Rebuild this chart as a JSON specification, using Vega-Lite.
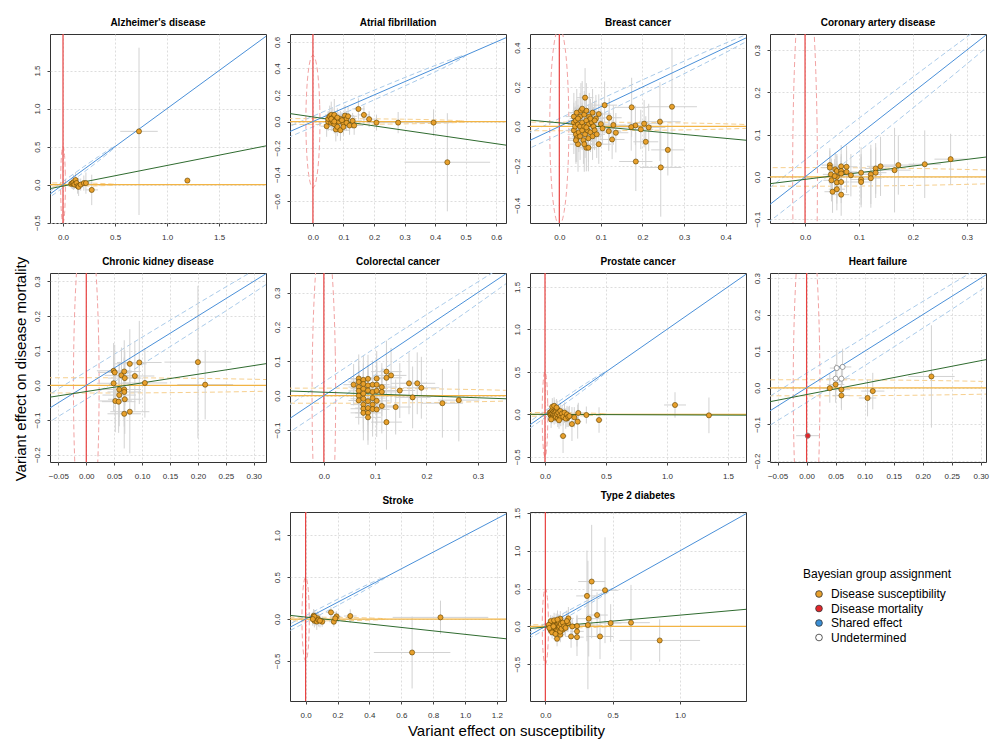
{
"$schema":"https://vega.github.io/schema/vega-lite/v6.json",
"padding":{"left":13,"top":17,"right":5,"bottom":5},
"title":{"text":"Variant effect on disease mortality","orient":"left","anchor":"middle","fontSize":15,"fontWeight":"normal","color":"#000","offset":4,"dx":9},
"columns":4,
"spacing":{"row":50,"column":24},
"bounds":"flush",
"resolve":{"scale":{"x":"independent","y":"independent","color":"shared"},"legend":{"color":"shared"}},
"datasets":{
"eR":[{"i":0,"x":0.023,"y":0},{"i":1,"x":0.0222,"y":0.1294},{"i":2,"x":0.0199,"y":0.25},{"i":3,"x":0.0163,"y":0.3536},{"i":4,"x":0.0115,"y":0.433},{"i":5,"x":0.006,"y":0.483},{"i":6,"x":0,"y":0.5},{"i":7,"x":-0.006,"y":0.483},{"i":8,"x":-0.0115,"y":0.433},{"i":9,"x":-0.0163,"y":0.3536},{"i":10,"x":-0.0199,"y":0.25},{"i":11,"x":-0.0222,"y":0.1294},{"i":12,"x":-0.023,"y":0},{"i":13,"x":-0.0222,"y":-0.1294},{"i":14,"x":-0.0199,"y":-0.25},{"i":15,"x":-0.0163,"y":-0.3536},{"i":16,"x":-0.0115,"y":-0.433},{"i":17,"x":-0.006,"y":-0.483},{"i":18,"x":0,"y":-0.5},{"i":19,"x":0.006,"y":-0.483},{"i":20,"x":0.0115,"y":-0.433},{"i":21,"x":0.0163,"y":-0.3536},{"i":22,"x":0.0199,"y":-0.25},{"i":23,"x":0.0222,"y":-0.1294}],
"eO":[{"i":0,"x":0.5,"y":0},{"i":1,"x":0.483,"y":0.0057},{"i":2,"x":0.433,"y":0.011},{"i":3,"x":0.3536,"y":0.0156},{"i":4,"x":0.25,"y":0.019},{"i":5,"x":0.1294,"y":0.0213},{"i":6,"x":0,"y":0.022},{"i":7,"x":-0.1294,"y":0.0213},{"i":8,"x":-0.25,"y":0.019},{"i":9,"x":-0.3536,"y":0.0156},{"i":10,"x":-0.433,"y":0.011},{"i":11,"x":-0.483,"y":0.0057},{"i":12,"x":-0.5,"y":0},{"i":13,"x":-0.483,"y":-0.0057},{"i":14,"x":-0.433,"y":-0.011},{"i":15,"x":-0.3536,"y":-0.0156},{"i":16,"x":-0.25,"y":-0.019},{"i":17,"x":-0.1294,"y":-0.0213},{"i":18,"x":0,"y":-0.022},{"i":19,"x":0.1294,"y":-0.0213},{"i":20,"x":0.25,"y":-0.019},{"i":21,"x":0.3536,"y":-0.0156},{"i":22,"x":0.433,"y":-0.011},{"i":23,"x":0.483,"y":-0.0057}],
"eB":[{"i":0,"x":0.5,"y":0.5},{"i":1,"x":0.4778,"y":0.4882},{"i":2,"x":0.423,"y":0.443},{"i":3,"x":0.3395,"y":0.3677},{"i":4,"x":0.2327,"y":0.2673},{"i":5,"x":0.1101,"y":0.1487},{"i":6,"x":-0.02,"y":0.02},{"i":7,"x":-0.1487,"y":-0.1101},{"i":8,"x":-0.2673,"y":-0.2327},{"i":9,"x":-0.3677,"y":-0.3395},{"i":10,"x":-0.443,"y":-0.423},{"i":11,"x":-0.4882,"y":-0.4778},{"i":12,"x":-0.5,"y":-0.5},{"i":13,"x":-0.4778,"y":-0.4882},{"i":14,"x":-0.423,"y":-0.443},{"i":15,"x":-0.3395,"y":-0.3677},{"i":16,"x":-0.2327,"y":-0.2673},{"i":17,"x":-0.1101,"y":-0.1487},{"i":18,"x":0.02,"y":-0.02},{"i":19,"x":0.1487,"y":0.1101},{"i":20,"x":0.2673,"y":0.2327},{"i":21,"x":0.3677,"y":0.3395},{"i":22,"x":0.443,"y":0.423},{"i":23,"x":0.4882,"y":0.4778}],
"vl":[{"x":0,"y":-3},{"x":0,"y":3}],
"hl":[{"x":-3,"y":0},{"x":3,"y":0}],
"dg":[{"x":-3,"y":-3},{"x":3,"y":3}],
"reg":[{"p":"AD","x":-0.125,"y":-0.053},{"p":"AD","x":1.95,"y":0.509},{"p":"AF","x":-0.075,"y":0.06},{"p":"AF","x":0.632,"y":-0.178},{"p":"BC","x":-0.0705,"y":0.032},{"p":"BC","x":0.449,"y":-0.07},{"p":"CAD","x":-0.065,"y":-0.016},{"p":"CAD","x":0.3356,"y":0.047},{"p":"CKD","x":-0.065,"y":-0.034},{"p":"CKD","x":0.322,"y":0.0625},{"p":"CRC","x":-0.066,"y":0.0136},{"p":"CRC","x":0.355,"y":-0.009},{"p":"PC","x":-0.123,"y":0.0},{"p":"PC","x":1.648,"y":-0.01},{"p":"HF","x":-0.063,"y":-0.038},{"p":"HF","x":0.309,"y":0.077},{"p":"ST","x":-0.098,"y":0.044},{"p":"ST","x":1.257,"y":-0.236},{"p":"T2D","x":-0.114,"y":-0.027},{"p":"T2D","x":1.49,"y":0.226}],
"oth":[{"p":"HF","g":"Disease mortality","x":0.002,"y":-0.131,"ex":0.02,"ey":0.01},{"p":"HF","g":"Undetermined","x":0.052,"y":0.054,"ex":0.012,"ey":0.05},{"p":"HF","g":"Undetermined","x":0.062,"y":0.057,"ex":0.015,"ey":0.05},{"p":"HF","g":"Undetermined","x":0.05,"y":0.025,"ex":0.015,"ey":0.04},{"p":"HF","g":"Undetermined","x":0.06,"y":0.025,"ex":0.015,"ey":0.04}],
"pts":[
{"p":"AD","x":0.73,"y":0.7,"ex":0.18,"ey":1.1},{"p":"AD","x":1.195,"y":0.053,"ex":0.02,"ey":0.03},{"p":"AD","x":0.276,"y":-0.07,"ex":0.06,"ey":0.2},{"p":"AD","x":0.08,"y":0.01,"ex":0.03,"ey":0.06},{"p":"AD","x":0.09,"y":0.02,"ex":0.03,"ey":0.08},{"p":"AD","x":0.1,"y":0.03,"ex":0.04,"ey":0.1},{"p":"AD","x":0.11,"y":0.0,"ex":0.03,"ey":0.06},{"p":"AD","x":0.12,"y":0.06,"ex":0.04,"ey":0.1},{"p":"AD","x":0.13,"y":0.02,"ex":0.04,"ey":0.08},{"p":"AD","x":0.14,"y":-0.02,"ex":0.05,"ey":0.1},{"p":"AD","x":0.15,"y":-0.03,"ex":0.05,"ey":0.12},{"p":"AD","x":0.17,"y":0.0,"ex":0.04,"ey":0.08},{"p":"AD","x":0.2,"y":0.02,"ex":0.05,"ey":0.1},{"p":"AD","x":0.22,"y":0.02,"ex":0.06,"ey":0.14},
{"p":"AF","x":0.149,"y":0.095,"ex":0.02,"ey":0.08},{"p":"AF","x":0.167,"y":0.05,"ex":0.02,"ey":0.07},{"p":"AF","x":0.184,"y":0.018,"ex":0.02,"ey":0.06},{"p":"AF","x":0.208,"y":-0.008,"ex":0.03,"ey":0.06},{"p":"AF","x":0.279,"y":-0.008,"ex":0.05,"ey":0.08},{"p":"AF","x":0.395,"y":-0.008,"ex":0.06,"ey":0.1},{"p":"AF","x":0.44,"y":-0.307,"ex":0.14,"ey":0.37},{"p":"AF","x":0.045,"y":-0.035,"ex":0.02,"ey":0.08},{"p":"AF","x":0.05,"y":0.0,"ex":0.02,"ey":0.07},{"p":"AF","x":0.05,"y":0.02,"ex":0.02,"ey":0.06},{"p":"AF","x":0.055,"y":0.04,"ex":0.02,"ey":0.08},{"p":"AF","x":0.06,"y":-0.01,"ex":0.02,"ey":0.06},{"p":"AF","x":0.06,"y":0.05,"ex":0.02,"ey":0.1},{"p":"AF","x":0.065,"y":0.03,"ex":0.02,"ey":0.07},{"p":"AF","x":0.065,"y":0.0,"ex":0.02,"ey":0.06},{"p":"AF","x":0.07,"y":0.05,"ex":0.02,"ey":0.12},{"p":"AF","x":0.07,"y":-0.02,"ex":0.02,"ey":0.07},{"p":"AF","x":0.075,"y":-0.06,"ex":0.03,"ey":0.09},{"p":"AF","x":0.075,"y":0.01,"ex":0.02,"ey":0.06},{"p":"AF","x":0.08,"y":-0.04,"ex":0.02,"ey":0.07},{"p":"AF","x":0.085,"y":0.0,"ex":0.03,"ey":0.07},{"p":"AF","x":0.09,"y":-0.065,"ex":0.03,"ey":0.08},{"p":"AF","x":0.09,"y":0.02,"ex":0.02,"ey":0.06},{"p":"AF","x":0.1,"y":-0.02,"ex":0.03,"ey":0.07},{"p":"AF","x":0.105,"y":0.045,"ex":0.03,"ey":0.08},{"p":"AF","x":0.11,"y":0.02,"ex":0.03,"ey":0.06},{"p":"AF","x":0.11,"y":-0.01,"ex":0.03,"ey":0.06},{"p":"AF","x":0.115,"y":0.04,"ex":0.03,"ey":0.07},{"p":"AF","x":0.12,"y":-0.03,"ex":0.03,"ey":0.07},{"p":"AF","x":0.13,"y":0.005,"ex":0.03,"ey":0.06},{"p":"AF","x":0.135,"y":-0.03,"ex":0.03,"ey":0.07},{"p":"AF","x":0.095,"y":0.01,"ex":0.02,"ey":0.06},{"p":"AF","x":0.1,"y":-0.04,"ex":0.03,"ey":0.07},{"p":"AF","x":0.06,"y":0.02,"ex":0.02,"ey":0.06},{"p":"AF","x":0.07,"y":0.0,"ex":0.02,"ey":0.06},{"p":"AF","x":0.08,"y":0.03,"ex":0.02,"ey":0.07},
{"p":"BC","x":0.174,"y":0.097,"ex":0.04,"ey":0.15},{"p":"BC","x":0.271,"y":0.1,"ex":0.06,"ey":0.3},{"p":"BC","x":0.242,"y":0.024,"ex":0.05,"ey":0.2},{"p":"BC","x":0.184,"y":-0.178,"ex":0.04,"ey":0.15},{"p":"BC","x":0.244,"y":-0.208,"ex":0.05,"ey":0.25},{"p":"BC","x":0.261,"y":-0.119,"ex":0.04,"ey":0.13},{"p":"BC","x":0.208,"y":-0.078,"ex":0.03,"ey":0.13},{"p":"BC","x":0.204,"y":0.014,"ex":0.04,"ey":0.12},{"p":"BC","x":0.196,"y":-0.015,"ex":0.03,"ey":0.1},{"p":"BC","x":0.215,"y":-0.005,"ex":0.04,"ey":0.12},{"p":"BC","x":0.183,"y":0.005,"ex":0.04,"ey":0.1},{"p":"BC","x":0.173,"y":-0.003,"ex":0.04,"ey":0.12},{"p":"BC","x":0.109,"y":0.108,"ex":0.03,"ey":0.12},{"p":"BC","x":0.12,"y":0.044,"ex":0.03,"ey":0.1},{"p":"BC","x":0.13,"y":0.007,"ex":0.03,"ey":0.1},{"p":"BC","x":0.136,"y":-0.032,"ex":0.03,"ey":0.1},{"p":"BC","x":0.127,"y":-0.066,"ex":0.03,"ey":0.1},{"p":"BC","x":0.119,"y":-0.024,"ex":0.03,"ey":0.1},{"p":"BC","x":0.095,"y":0.063,"ex":0.03,"ey":0.1},{"p":"BC","x":0.095,"y":-0.09,"ex":0.03,"ey":0.1},{"p":"BC","x":0.1,"y":0.012,"ex":0.03,"ey":0.08},{"p":"BC","x":0.104,"y":-0.01,"ex":0.03,"ey":0.08},{"p":"BC","x":0.062,"y":0.146,"ex":0.02,"ey":0.15},{"p":"BC","x":0.065,"y":-0.108,"ex":0.02,"ey":0.12},{"p":"BC","x":0.07,"y":-0.108,"ex":0.02,"ey":0.12},
{"p":"BC","x":0.035,"y":0.05,"ex":0.02,"ey":0.12},{"p":"BC","x":0.035,"y":0.02,"ex":0.02,"ey":0.1},{"p":"BC","x":0.035,"y":-0.02,"ex":0.02,"ey":0.12},{"p":"BC","x":0.038,"y":0.0,"ex":0.02,"ey":0.1},{"p":"BC","x":0.04,"y":-0.04,"ex":0.02,"ey":0.14},{"p":"BC","x":0.04,"y":0.03,"ex":0.02,"ey":0.1},{"p":"BC","x":0.042,"y":-0.06,"ex":0.02,"ey":0.12},{"p":"BC","x":0.042,"y":0.07,"ex":0.02,"ey":0.12},{"p":"BC","x":0.045,"y":0.01,"ex":0.02,"ey":0.1},{"p":"BC","x":0.045,"y":-0.09,"ex":0.02,"ey":0.14},{"p":"BC","x":0.047,"y":-0.03,"ex":0.02,"ey":0.1},{"p":"BC","x":0.05,"y":0.05,"ex":0.02,"ey":0.12},{"p":"BC","x":0.05,"y":0.0,"ex":0.02,"ey":0.1},{"p":"BC","x":0.05,"y":-0.05,"ex":0.02,"ey":0.12},{"p":"BC","x":0.052,"y":0.08,"ex":0.02,"ey":0.14},{"p":"BC","x":0.055,"y":0.02,"ex":0.02,"ey":0.1},{"p":"BC","x":0.055,"y":-0.02,"ex":0.02,"ey":0.1},{"p":"BC","x":0.058,"y":-0.07,"ex":0.02,"ey":0.12},{"p":"BC","x":0.06,"y":0.06,"ex":0.02,"ey":0.12},{"p":"BC","x":0.06,"y":0.0,"ex":0.02,"ey":0.1},{"p":"BC","x":0.062,"y":-0.04,"ex":0.02,"ey":0.12},{"p":"BC","x":0.065,"y":0.03,"ex":0.02,"ey":0.1},{"p":"BC","x":0.065,"y":0.08,"ex":0.02,"ey":0.14},{"p":"BC","x":0.068,"y":-0.02,"ex":0.02,"ey":0.1},{"p":"BC","x":0.07,"y":0.01,"ex":0.02,"ey":0.1},{"p":"BC","x":0.07,"y":-0.06,"ex":0.02,"ey":0.12},{"p":"BC","x":0.072,"y":0.05,"ex":0.02,"ey":0.12},{"p":"BC","x":0.075,"y":-0.03,"ex":0.02,"ey":0.1},{"p":"BC","x":0.078,"y":0.02,"ex":0.02,"ey":0.1},{"p":"BC","x":0.08,"y":-0.05,"ex":0.02,"ey":0.12},{"p":"BC","x":0.08,"y":0.07,"ex":0.02,"ey":0.12},{"p":"BC","x":0.082,"y":0.0,"ex":0.02,"ey":0.1},{"p":"BC","x":0.085,"y":-0.02,"ex":0.02,"ey":0.1},{"p":"BC","x":0.088,"y":0.04,"ex":0.02,"ey":0.12},{"p":"BC","x":0.09,"y":-0.04,"ex":0.02,"ey":0.12},{"p":"BC","x":0.045,"y":0.04,"ex":0.02,"ey":0.1},{"p":"BC","x":0.055,"y":0.09,"ex":0.02,"ey":0.14},{"p":"BC","x":0.06,"y":-0.09,"ex":0.02,"ey":0.14},{"p":"BC","x":0.075,"y":0.04,"ex":0.02,"ey":0.1},{"p":"BC","x":0.085,"y":0.03,"ex":0.02,"ey":0.1},{"p":"BC","x":0.04,"y":-0.07,"ex":0.02,"ey":0.12},{"p":"BC","x":0.065,"y":-0.005,"ex":0.02,"ey":0.1},
{"p":"CAD","x":0.046,"y":0.028,"ex":0.015,"ey":0.04},{"p":"CAD","x":0.046,"y":0.022,"ex":0.015,"ey":0.04},{"p":"CAD","x":0.048,"y":0.006,"ex":0.015,"ey":0.04},{"p":"CAD","x":0.049,"y":-0.008,"ex":0.015,"ey":0.05},{"p":"CAD","x":0.051,"y":-0.035,"ex":0.015,"ey":0.05},{"p":"CAD","x":0.056,"y":0.018,"ex":0.015,"ey":0.04},{"p":"CAD","x":0.059,"y":0.014,"ex":0.015,"ey":0.04},{"p":"CAD","x":0.059,"y":0.0,"ex":0.015,"ey":0.05},{"p":"CAD","x":0.059,"y":-0.013,"ex":0.015,"ey":0.05},{"p":"CAD","x":0.059,"y":-0.029,"ex":0.015,"ey":0.05},{"p":"CAD","x":0.067,"y":0.025,"ex":0.015,"ey":0.05},{"p":"CAD","x":0.067,"y":0.014,"ex":0.015,"ey":0.04},{"p":"CAD","x":0.067,"y":0.008,"ex":0.015,"ey":0.04},{"p":"CAD","x":0.067,"y":-0.012,"ex":0.015,"ey":0.05},{"p":"CAD","x":0.067,"y":-0.042,"ex":0.015,"ey":0.05},{"p":"CAD","x":0.077,"y":0.024,"ex":0.02,"ey":0.05},{"p":"CAD","x":0.077,"y":0.012,"ex":0.02,"ey":0.05},{"p":"CAD","x":0.085,"y":0.004,"ex":0.02,"ey":0.05},{"p":"CAD","x":0.104,"y":0.01,"ex":0.02,"ey":0.06},{"p":"CAD","x":0.104,"y":-0.006,"ex":0.02,"ey":0.06},{"p":"CAD","x":0.104,"y":-0.012,"ex":0.02,"ey":0.06},{"p":"CAD","x":0.122,"y":0.006,"ex":0.02,"ey":0.07},{"p":"CAD","x":0.122,"y":-0.003,"ex":0.02,"ey":0.07},{"p":"CAD","x":0.131,"y":0.02,"ex":0.02,"ey":0.06},{"p":"CAD","x":0.131,"y":0.01,"ex":0.02,"ey":0.06},{"p":"CAD","x":0.14,"y":0.025,"ex":0.025,"ey":0.07},{"p":"CAD","x":0.166,"y":0.016,"ex":0.03,"ey":0.1},{"p":"CAD","x":0.173,"y":0.028,"ex":0.03,"ey":0.07},{"p":"CAD","x":0.222,"y":0.03,"ex":0.03,"ey":0.08},{"p":"CAD","x":0.27,"y":0.042,"ex":0.03,"ey":0.06},{"p":"CAD","x":0.055,"y":0.002,"ex":0.015,"ey":0.04},
{"p":"CKD","x":0.049,"y":0.042,"ex":0.03,"ey":0.08},{"p":"CKD","x":0.051,"y":0.037,"ex":0.03,"ey":0.08},{"p":"CKD","x":0.049,"y":0.006,"ex":0.03,"ey":0.08},{"p":"CKD","x":0.052,"y":-0.045,"ex":0.03,"ey":0.09},{"p":"CKD","x":0.059,"y":-0.012,"ex":0.03,"ey":0.08},{"p":"CKD","x":0.059,"y":-0.028,"ex":0.03,"ey":0.09},{"p":"CKD","x":0.058,"y":-0.047,"ex":0.03,"ey":0.09},{"p":"CKD","x":0.063,"y":0.029,"ex":0.03,"ey":0.08},{"p":"CKD","x":0.068,"y":0.04,"ex":0.03,"ey":0.09},{"p":"CKD","x":0.069,"y":0.021,"ex":0.03,"ey":0.08},{"p":"CKD","x":0.068,"y":-0.012,"ex":0.03,"ey":0.09},{"p":"CKD","x":0.068,"y":-0.019,"ex":0.03,"ey":0.1},{"p":"CKD","x":0.069,"y":-0.04,"ex":0.03,"ey":0.1},{"p":"CKD","x":0.068,"y":-0.082,"ex":0.03,"ey":0.1},{"p":"CKD","x":0.078,"y":0.062,"ex":0.03,"ey":0.1},{"p":"CKD","x":0.078,"y":-0.076,"ex":0.035,"ey":0.12},{"p":"CKD","x":0.087,"y":0.027,"ex":0.035,"ey":0.1},{"p":"CKD","x":0.095,"y":0.066,"ex":0.04,"ey":0.12},{"p":"CKD","x":0.105,"y":0.007,"ex":0.04,"ey":0.1},{"p":"CKD","x":0.2,"y":0.067,"ex":0.06,"ey":0.22},{"p":"CKD","x":0.213,"y":0.002,"ex":0.05,"ey":0.1},
{"p":"CRC","x":0.058,"y":0.032,"ex":0.02,"ey":0.06},{"p":"CRC","x":0.068,"y":0.05,"ex":0.02,"ey":0.07},{"p":"CRC","x":0.068,"y":0.04,"ex":0.02,"ey":0.06},{"p":"CRC","x":0.068,"y":0.025,"ex":0.02,"ey":0.06},{"p":"CRC","x":0.068,"y":0.014,"ex":0.02,"ey":0.06},{"p":"CRC","x":0.068,"y":0.0,"ex":0.02,"ey":0.06},{"p":"CRC","x":0.068,"y":-0.014,"ex":0.02,"ey":0.07},{"p":"CRC","x":0.077,"y":0.046,"ex":0.025,"ey":0.07},{"p":"CRC","x":0.077,"y":0.034,"ex":0.025,"ey":0.06},{"p":"CRC","x":0.077,"y":0.02,"ex":0.025,"ey":0.06},{"p":"CRC","x":0.077,"y":0.006,"ex":0.025,"ey":0.06},{"p":"CRC","x":0.077,"y":-0.009,"ex":0.025,"ey":0.07},{"p":"CRC","x":0.077,"y":-0.026,"ex":0.025,"ey":0.07},{"p":"CRC","x":0.077,"y":-0.038,"ex":0.025,"ey":0.07},{"p":"CRC","x":0.077,"y":-0.05,"ex":0.025,"ey":0.08},{"p":"CRC","x":0.086,"y":0.049,"ex":0.025,"ey":0.07},{"p":"CRC","x":0.086,"y":0.03,"ex":0.025,"ey":0.06},{"p":"CRC","x":0.086,"y":0.015,"ex":0.025,"ey":0.06},{"p":"CRC","x":0.086,"y":-0.016,"ex":0.025,"ey":0.07},{"p":"CRC","x":0.086,"y":-0.036,"ex":0.025,"ey":0.07},{"p":"CRC","x":0.086,"y":-0.05,"ex":0.025,"ey":0.08},{"p":"CRC","x":0.086,"y":-0.063,"ex":0.025,"ey":0.08},{"p":"CRC","x":0.095,"y":0.032,"ex":0.025,"ey":0.07},{"p":"CRC","x":0.095,"y":0.011,"ex":0.025,"ey":0.06},{"p":"CRC","x":0.095,"y":-0.007,"ex":0.025,"ey":0.07},{"p":"CRC","x":0.095,"y":-0.026,"ex":0.025,"ey":0.07},{"p":"CRC","x":0.095,"y":-0.039,"ex":0.025,"ey":0.08},{"p":"CRC","x":0.103,"y":0.05,"ex":0.025,"ey":0.08},{"p":"CRC","x":0.103,"y":0.032,"ex":0.025,"ey":0.07},{"p":"CRC","x":0.103,"y":0.014,"ex":0.025,"ey":0.07},{"p":"CRC","x":0.103,"y":-0.015,"ex":0.025,"ey":0.07},{"p":"CRC","x":0.103,"y":-0.04,"ex":0.025,"ey":0.08},{"p":"CRC","x":0.113,"y":0.025,"ex":0.03,"ey":0.07},{"p":"CRC","x":0.113,"y":0.011,"ex":0.03,"ey":0.07},{"p":"CRC","x":0.113,"y":-0.03,"ex":0.03,"ey":0.08},{"p":"CRC","x":0.122,"y":0.07,"ex":0.03,"ey":0.09},{"p":"CRC","x":0.122,"y":0.052,"ex":0.03,"ey":0.08},{"p":"CRC","x":0.131,"y":0.059,"ex":0.03,"ey":0.08},{"p":"CRC","x":0.122,"y":-0.077,"ex":0.03,"ey":0.08},{"p":"CRC","x":0.14,"y":-0.033,"ex":0.03,"ey":0.08},{"p":"CRC","x":0.148,"y":0.015,"ex":0.03,"ey":0.08},{"p":"CRC","x":0.166,"y":0.036,"ex":0.035,"ey":0.09},{"p":"CRC","x":0.173,"y":-0.005,"ex":0.035,"ey":0.09},{"p":"CRC","x":0.182,"y":0.036,"ex":0.035,"ey":0.09},{"p":"CRC","x":0.19,"y":0.023,"ex":0.035,"ey":0.09},{"p":"CRC","x":0.231,"y":-0.022,"ex":0.04,"ey":0.1},{"p":"CRC","x":0.263,"y":-0.013,"ex":0.04,"ey":0.12},
{"p":"PC","x":1.066,"y":0.11,"ex":0.09,"ey":0.15},{"p":"PC","x":1.344,"y":-0.012,"ex":0.03,"ey":0.21},{"p":"PC","x":0.443,"y":-0.067,"ex":0.03,"ey":0.15},{"p":"PC","x":0.339,"y":-0.008,"ex":0.04,"ey":0.1},{"p":"PC","x":0.273,"y":0.016,"ex":0.04,"ey":0.12},{"p":"PC","x":0.268,"y":-0.086,"ex":0.03,"ey":0.2},{"p":"PC","x":0.24,"y":-0.035,"ex":0.03,"ey":0.12},{"p":"PC","x":0.221,"y":-0.114,"ex":0.03,"ey":0.2},{"p":"PC","x":0.148,"y":-0.255,"ex":0.03,"ey":0.2},{"p":"PC","x":0.18,"y":-0.05,"ex":0.03,"ey":0.1},
{"p":"PC","x":0.04,"y":0.02,"ex":0.03,"ey":0.08},{"p":"PC","x":0.045,"y":-0.01,"ex":0.03,"ey":0.08},{"p":"PC","x":0.05,"y":0.03,"ex":0.03,"ey":0.08},{"p":"PC","x":0.05,"y":0.0,"ex":0.03,"ey":0.08},{"p":"PC","x":0.055,"y":-0.03,"ex":0.03,"ey":0.08},{"p":"PC","x":0.06,"y":0.05,"ex":0.03,"ey":0.08},{"p":"PC","x":0.06,"y":0.01,"ex":0.03,"ey":0.08},{"p":"PC","x":0.065,"y":-0.02,"ex":0.03,"ey":0.08},{"p":"PC","x":0.07,"y":0.03,"ex":0.03,"ey":0.08},{"p":"PC","x":0.07,"y":0.0,"ex":0.03,"ey":0.08},{"p":"PC","x":0.075,"y":-0.04,"ex":0.03,"ey":0.08},{"p":"PC","x":0.08,"y":0.07,"ex":0.03,"ey":0.1},{"p":"PC","x":0.08,"y":0.02,"ex":0.03,"ey":0.08},{"p":"PC","x":0.085,"y":-0.01,"ex":0.03,"ey":0.08},{"p":"PC","x":0.09,"y":0.04,"ex":0.03,"ey":0.08},{"p":"PC","x":0.09,"y":-0.03,"ex":0.03,"ey":0.08},{"p":"PC","x":0.1,"y":0.0,"ex":0.03,"ey":0.08},{"p":"PC","x":0.1,"y":0.06,"ex":0.03,"ey":0.1},{"p":"PC","x":0.105,"y":-0.05,"ex":0.03,"ey":0.1},{"p":"PC","x":0.11,"y":0.02,"ex":0.03,"ey":0.08},{"p":"PC","x":0.12,"y":-0.02,"ex":0.04,"ey":0.1},{"p":"PC","x":0.125,"y":0.04,"ex":0.04,"ey":0.1},{"p":"PC","x":0.13,"y":-0.04,"ex":0.04,"ey":0.1},{"p":"PC","x":0.14,"y":0.01,"ex":0.04,"ey":0.1},{"p":"PC","x":0.15,"y":-0.03,"ex":0.04,"ey":0.1},{"p":"PC","x":0.16,"y":0.02,"ex":0.04,"ey":0.12},{"p":"PC","x":0.17,"y":-0.05,"ex":0.04,"ey":0.12},{"p":"PC","x":0.18,"y":0.0,"ex":0.04,"ey":0.1},{"p":"PC","x":0.19,"y":-0.03,"ex":0.04,"ey":0.12},{"p":"PC","x":0.2,"y":-0.02,"ex":0.04,"ey":0.12},{"p":"PC","x":0.06,"y":0.09,"ex":0.03,"ey":0.1},{"p":"PC","x":0.075,"y":0.1,"ex":0.03,"ey":0.1},{"p":"PC","x":0.05,"y":-0.06,"ex":0.03,"ey":0.1},{"p":"PC","x":0.095,"y":0.08,"ex":0.03,"ey":0.1},{"p":"PC","x":0.115,"y":-0.07,"ex":0.03,"ey":0.1},
{"p":"HF","x":0.04,"y":-0.001,"ex":0.015,"ey":0.04},{"p":"HF","x":0.05,"y":0.009,"ex":0.015,"ey":0.05},{"p":"HF","x":0.06,"y":-0.005,"ex":0.015,"ey":0.05},{"p":"HF","x":0.06,"y":-0.021,"ex":0.015,"ey":0.04},{"p":"HF","x":0.105,"y":-0.028,"ex":0.015,"ey":0.05},{"p":"HF","x":0.114,"y":-0.009,"ex":0.02,"ey":0.05},{"p":"HF","x":0.215,"y":0.031,"ex":0.04,"ey":0.14},
{"p":"ST","x":0.846,"y":0.02,"ex":0.3,"ey":0.2},{"p":"ST","x":0.668,"y":-0.4,"ex":0.24,"ey":0.43},{"p":"ST","x":0.28,"y":0.036,"ex":0.04,"ey":0.08},{"p":"ST","x":0.159,"y":0.08,"ex":0.03,"ey":0.06},{"p":"ST","x":0.194,"y":0.032,"ex":0.03,"ey":0.06},{"p":"ST","x":0.177,"y":-0.032,"ex":0.03,"ey":0.06},{"p":"ST","x":0.186,"y":0.008,"ex":0.03,"ey":0.06},{"p":"ST","x":0.104,"y":-0.032,"ex":0.02,"ey":0.06},{"p":"ST","x":0.05,"y":0.04,"ex":0.02,"ey":0.08},{"p":"ST","x":0.05,"y":0.02,"ex":0.02,"ey":0.08},{"p":"ST","x":0.055,"y":-0.02,"ex":0.02,"ey":0.08},{"p":"ST","x":0.06,"y":0.01,"ex":0.02,"ey":0.08},{"p":"ST","x":0.065,"y":0.0,"ex":0.02,"ey":0.08},{"p":"ST","x":0.07,"y":-0.03,"ex":0.02,"ey":0.1},{"p":"ST","x":0.075,"y":0.01,"ex":0.02,"ey":0.08},{"p":"ST","x":0.08,"y":-0.01,"ex":0.02,"ey":0.08},{"p":"ST","x":0.09,"y":-0.02,"ex":0.02,"ey":0.08},{"p":"ST","x":0.055,"y":0.03,"ex":0.02,"ey":0.08},{"p":"ST","x":0.045,"y":0.0,"ex":0.02,"ey":0.08},
{"p":"T2D","x":0.344,"y":0.593,"ex":0.1,"ey":0.75},{"p":"T2D","x":0.309,"y":0.403,"ex":0.08,"ey":0.6},{"p":"T2D","x":0.443,"y":0.478,"ex":0.1,"ey":0.7},{"p":"T2D","x":0.384,"y":0.15,"ex":0.08,"ey":0.3},{"p":"T2D","x":0.322,"y":0.102,"ex":0.08,"ey":0.5},{"p":"T2D","x":0.316,"y":0.018,"ex":0.08,"ey":0.85},{"p":"T2D","x":0.406,"y":-0.133,"ex":0.1,"ey":0.3},{"p":"T2D","x":0.485,"y":0.044,"ex":0.08,"ey":0.25},{"p":"T2D","x":0.636,"y":0.049,"ex":0.14,"ey":0.5},{"p":"T2D","x":0.849,"y":-0.186,"ex":0.3,"ey":0.28},{"p":"T2D","x":0.235,"y":0.004,"ex":0.05,"ey":0.15},{"p":"T2D","x":0.235,"y":-0.066,"ex":0.05,"ey":0.2},{"p":"T2D","x":0.235,"y":-0.142,"ex":0.05,"ey":0.25},{"p":"T2D","x":0.191,"y":-0.133,"ex":0.04,"ey":0.15},{"p":"T2D","x":0.171,"y":0.106,"ex":0.04,"ey":0.15},{"p":"T2D","x":0.168,"y":0.044,"ex":0.04,"ey":0.12},{"p":"T2D","x":0.111,"y":0.102,"ex":0.03,"ey":0.1},{"p":"T2D","x":0.129,"y":-0.044,"ex":0.03,"ey":0.1},{"p":"T2D","x":0.087,"y":-0.164,"ex":0.03,"ey":0.1},{"p":"T2D","x":0.111,"y":-0.11,"ex":0.03,"ey":0.1},{"p":"T2D","x":0.2,"y":0.0,"ex":0.04,"ey":0.1},
{"p":"T2D","x":0.03,"y":0.0,"ex":0.02,"ey":0.06},{"p":"T2D","x":0.035,"y":0.03,"ex":0.02,"ey":0.06},{"p":"T2D","x":0.035,"y":-0.03,"ex":0.02,"ey":0.06},{"p":"T2D","x":0.04,"y":0.01,"ex":0.02,"ey":0.06},{"p":"T2D","x":0.04,"y":-0.05,"ex":0.02,"ey":0.07},{"p":"T2D","x":0.045,"y":0.05,"ex":0.02,"ey":0.07},{"p":"T2D","x":0.045,"y":-0.01,"ex":0.02,"ey":0.06},{"p":"T2D","x":0.05,"y":0.02,"ex":0.02,"ey":0.06},{"p":"T2D","x":0.05,"y":-0.03,"ex":0.02,"ey":0.07},{"p":"T2D","x":0.055,"y":0.0,"ex":0.02,"ey":0.06},{"p":"T2D","x":0.055,"y":0.06,"ex":0.02,"ey":0.08},{"p":"T2D","x":0.06,"y":-0.05,"ex":0.02,"ey":0.08},{"p":"T2D","x":0.06,"y":0.03,"ex":0.02,"ey":0.07},{"p":"T2D","x":0.065,"y":-0.01,"ex":0.02,"ey":0.07},{"p":"T2D","x":0.07,"y":0.04,"ex":0.02,"ey":0.08},{"p":"T2D","x":0.07,"y":-0.07,"ex":0.02,"ey":0.08},{"p":"T2D","x":0.075,"y":0.01,"ex":0.025,"ey":0.08},{"p":"T2D","x":0.08,"y":-0.03,"ex":0.025,"ey":0.08},{"p":"T2D","x":0.08,"y":0.07,"ex":0.025,"ey":0.1},{"p":"T2D","x":0.085,"y":0.02,"ex":0.025,"ey":0.08},{"p":"T2D","x":0.09,"y":-0.05,"ex":0.025,"ey":0.1},{"p":"T2D","x":0.095,"y":0.04,"ex":0.025,"ey":0.1},{"p":"T2D","x":0.1,"y":-0.02,"ex":0.03,"ey":0.1},{"p":"T2D","x":0.1,"y":0.06,"ex":0.03,"ey":0.1},{"p":"T2D","x":0.105,"y":0.0,"ex":0.03,"ey":0.1},{"p":"T2D","x":0.11,"y":-0.07,"ex":0.03,"ey":0.12},{"p":"T2D","x":0.115,"y":0.03,"ex":0.03,"ey":0.1},{"p":"T2D","x":0.12,"y":-0.03,"ex":0.03,"ey":0.1},{"p":"T2D","x":0.13,"y":0.05,"ex":0.03,"ey":0.12},{"p":"T2D","x":0.14,"y":0.0,"ex":0.03,"ey":0.12},{"p":"T2D","x":0.15,"y":-0.02,"ex":0.03,"ey":0.12},{"p":"T2D","x":0.16,"y":0.07,"ex":0.04,"ey":0.14},{"p":"T2D","x":0.04,"y":0.07,"ex":0.02,"ey":0.08},{"p":"T2D","x":0.05,"y":-0.08,"ex":0.02,"ey":0.08},{"p":"T2D","x":0.065,"y":0.08,"ex":0.02,"ey":0.1},{"p":"T2D","x":0.075,"y":-0.1,"ex":0.02,"ey":0.1},{"p":"T2D","x":0.09,"y":0.09,"ex":0.03,"ey":0.12},{"p":"T2D","x":0.025,"y":0.02,"ex":0.02,"ey":0.06},{"p":"T2D","x":0.03,"y":-0.02,"ex":0.02,"ey":0.06},{"p":"T2D","x":0.06,"y":0.0,"ex":0.02,"ey":0.06}
]
},
"concat":[
{"title":"Alzheimer's disease","width":216,"height":189,
"encoding":{"x":{"field":"x","type":"quantitative","title":null,"scale":{"domain":[-0.125,1.95],"nice":false,"zero":false},"axis":{"values":[0,0.5,1,1.5],"format":".1f"}},"y":{"field":"y","type":"quantitative","title":null,"scale":{"domain":[-0.505,1.98],"nice":false,"zero":false},"axis":{"values":[-0.5,0,0.5,1,1.5],"format":".1f"}}},
"layer":[
{"data":{"name":"eR"},"mark":{"type":"line","clip":true,"interpolate":"cardinal-closed","strokeDash":[5,3],"color":"#F2A3A3","strokeWidth":1},"encoding":{"order":{"field":"i"}}},
{"data":{"name":"eO"},"mark":{"type":"line","clip":true,"interpolate":"cardinal-closed","strokeDash":[5,3],"color":"#F7D08F","strokeWidth":1},"encoding":{"order":{"field":"i"}}},
{"data":{"name":"eB"},"mark":{"type":"line","clip":true,"interpolate":"cardinal-closed","strokeDash":[5,3],"color":"#AACBEA","strokeWidth":1},"encoding":{"order":{"field":"i"}}},
{"data":{"name":"pts"},"transform":[{"filter":"datum.p=='AD'"}],"mark":{"type":"errorbar","color":"#d2d2d2","clip":true},"encoding":{"xError":{"field":"ex"}}},
{"data":{"name":"pts"},"transform":[{"filter":"datum.p=='AD'"}],"mark":{"type":"errorbar","color":"#d2d2d2","clip":true},"encoding":{"yError":{"field":"ey"}}},
{"data":{"name":"vl"},"mark":{"type":"line","clip":true,"color":"#E8403F","strokeWidth":1.2},"encoding":{}},
{"data":{"name":"hl"},"mark":{"type":"line","clip":true,"color":"#F2B444","strokeWidth":1.2},"encoding":{}},
{"data":{"name":"dg"},"mark":{"type":"line","clip":true,"color":"#4A90D9","strokeWidth":1},"encoding":{}},
{"data":{"name":"reg"},"transform":[{"filter":"datum.p=='AD'"}],"mark":{"type":"line","clip":true,"color":"#2F6B2F","strokeWidth":1},"encoding":{}},
{"data":{"name":"pts"},"transform":[{"filter":"datum.p=='AD'"}],"mark":{"type":"point","filled":true,"size":26,"opacity":1,"stroke":"#5e4100","strokeWidth":0.6},"encoding":{"color":{"datum":"Disease susceptibility","type":"nominal","scale":{"domain":["Disease susceptibility","Disease mortality","Shared effect","Undetermined"],"range":["#E8A02C","#E3262A","#3A8FD6","#FFFFFF"]},"legend":{"title":"Bayesian group assignment","orient":"none","legendX":753,"legendY":535}}}}
]},
{"title":"Atrial fibrillation","width":216,"height":189,
"encoding":{"x":{"field":"x","type":"quantitative","title":null,"scale":{"domain":[-0.075,0.632],"nice":false,"zero":false},"axis":{"values":[0,0.1,0.2,0.3,0.4,0.5,0.6],"format":".1f"}},"y":{"field":"y","type":"quantitative","title":null,"scale":{"domain":[-0.765,0.66],"nice":false,"zero":false},"axis":{"values":[-0.6,-0.4,-0.2,0,0.2,0.4,0.6],"format":".1f"}}},
"layer":[
{"data":{"name":"eR"},"mark":{"type":"line","clip":true,"interpolate":"cardinal-closed","strokeDash":[5,3],"color":"#F2A3A3","strokeWidth":1},"encoding":{"order":{"field":"i"}}},
{"data":{"name":"eO"},"mark":{"type":"line","clip":true,"interpolate":"cardinal-closed","strokeDash":[5,3],"color":"#F7D08F","strokeWidth":1},"encoding":{"order":{"field":"i"}}},
{"data":{"name":"eB"},"mark":{"type":"line","clip":true,"interpolate":"cardinal-closed","strokeDash":[5,3],"color":"#AACBEA","strokeWidth":1},"encoding":{"order":{"field":"i"}}},
{"data":{"name":"pts"},"transform":[{"filter":"datum.p=='AF'"}],"mark":{"type":"errorbar","color":"#d2d2d2","clip":true},"encoding":{"xError":{"field":"ex"}}},
{"data":{"name":"pts"},"transform":[{"filter":"datum.p=='AF'"}],"mark":{"type":"errorbar","color":"#d2d2d2","clip":true},"encoding":{"yError":{"field":"ey"}}},
{"data":{"name":"vl"},"mark":{"type":"line","clip":true,"color":"#E8403F","strokeWidth":1.2},"encoding":{}},
{"data":{"name":"hl"},"mark":{"type":"line","clip":true,"color":"#F2B444","strokeWidth":1.2},"encoding":{}},
{"data":{"name":"dg"},"mark":{"type":"line","clip":true,"color":"#4A90D9","strokeWidth":1},"encoding":{}},
{"data":{"name":"reg"},"transform":[{"filter":"datum.p=='AF'"}],"mark":{"type":"line","clip":true,"color":"#2F6B2F","strokeWidth":1},"encoding":{}},
{"data":{"name":"pts"},"transform":[{"filter":"datum.p=='AF'"}],"mark":{"type":"point","filled":true,"size":26,"opacity":1,"stroke":"#5e4100","strokeWidth":0.6},"encoding":{"color":{"datum":"Disease susceptibility","type":"nominal","scale":{"domain":["Disease susceptibility","Disease mortality","Shared effect","Undetermined"],"range":["#E8A02C","#E3262A","#3A8FD6","#FFFFFF"]},"legend":{"title":"Bayesian group assignment","orient":"none","legendX":753,"legendY":535}}}}
]},
{"title":"Breast cancer","width":216,"height":189,
"encoding":{"x":{"field":"x","type":"quantitative","title":null,"scale":{"domain":[-0.0705,0.449],"nice":false,"zero":false},"axis":{"values":[0,0.1,0.2,0.3,0.4],"format":".1f"}},"y":{"field":"y","type":"quantitative","title":null,"scale":{"domain":[-0.49,0.469],"nice":false,"zero":false},"axis":{"values":[-0.4,-0.2,0,0.2,0.4],"format":".1f"}}},
"layer":[
{"data":{"name":"eR"},"mark":{"type":"line","clip":true,"interpolate":"cardinal-closed","strokeDash":[5,3],"color":"#F2A3A3","strokeWidth":1},"encoding":{"order":{"field":"i"}}},
{"data":{"name":"eO"},"mark":{"type":"line","clip":true,"interpolate":"cardinal-closed","strokeDash":[5,3],"color":"#F7D08F","strokeWidth":1},"encoding":{"order":{"field":"i"}}},
{"data":{"name":"eB"},"mark":{"type":"line","clip":true,"interpolate":"cardinal-closed","strokeDash":[5,3],"color":"#AACBEA","strokeWidth":1},"encoding":{"order":{"field":"i"}}},
{"data":{"name":"pts"},"transform":[{"filter":"datum.p=='BC'"}],"mark":{"type":"errorbar","color":"#d2d2d2","clip":true},"encoding":{"xError":{"field":"ex"}}},
{"data":{"name":"pts"},"transform":[{"filter":"datum.p=='BC'"}],"mark":{"type":"errorbar","color":"#d2d2d2","clip":true},"encoding":{"yError":{"field":"ey"}}},
{"data":{"name":"vl"},"mark":{"type":"line","clip":true,"color":"#E8403F","strokeWidth":1.2},"encoding":{}},
{"data":{"name":"hl"},"mark":{"type":"line","clip":true,"color":"#F2B444","strokeWidth":1.2},"encoding":{}},
{"data":{"name":"dg"},"mark":{"type":"line","clip":true,"color":"#4A90D9","strokeWidth":1},"encoding":{}},
{"data":{"name":"reg"},"transform":[{"filter":"datum.p=='BC'"}],"mark":{"type":"line","clip":true,"color":"#2F6B2F","strokeWidth":1},"encoding":{}},
{"data":{"name":"pts"},"transform":[{"filter":"datum.p=='BC'"}],"mark":{"type":"point","filled":true,"size":26,"opacity":1,"stroke":"#5e4100","strokeWidth":0.6},"encoding":{"color":{"datum":"Disease susceptibility","type":"nominal","scale":{"domain":["Disease susceptibility","Disease mortality","Shared effect","Undetermined"],"range":["#E8A02C","#E3262A","#3A8FD6","#FFFFFF"]},"legend":{"title":"Bayesian group assignment","orient":"none","legendX":753,"legendY":535}}}}
]},
{"title":"Coronary artery disease","width":216,"height":189,
"encoding":{"x":{"field":"x","type":"quantitative","title":null,"scale":{"domain":[-0.065,0.3356],"nice":false,"zero":false},"axis":{"values":[0,0.1,0.2,0.3],"format":".1f"}},"y":{"field":"y","type":"quantitative","title":null,"scale":{"domain":[-0.109,0.338],"nice":false,"zero":false},"axis":{"values":[-0.1,0,0.1,0.2,0.3],"format":".1f"}}},
"layer":[
{"data":{"name":"eR"},"mark":{"type":"line","clip":true,"interpolate":"cardinal-closed","strokeDash":[5,3],"color":"#F2A3A3","strokeWidth":1},"encoding":{"order":{"field":"i"}}},
{"data":{"name":"eO"},"mark":{"type":"line","clip":true,"interpolate":"cardinal-closed","strokeDash":[5,3],"color":"#F7D08F","strokeWidth":1},"encoding":{"order":{"field":"i"}}},
{"data":{"name":"eB"},"mark":{"type":"line","clip":true,"interpolate":"cardinal-closed","strokeDash":[5,3],"color":"#AACBEA","strokeWidth":1},"encoding":{"order":{"field":"i"}}},
{"data":{"name":"pts"},"transform":[{"filter":"datum.p=='CAD'"}],"mark":{"type":"errorbar","color":"#d2d2d2","clip":true},"encoding":{"xError":{"field":"ex"}}},
{"data":{"name":"pts"},"transform":[{"filter":"datum.p=='CAD'"}],"mark":{"type":"errorbar","color":"#d2d2d2","clip":true},"encoding":{"yError":{"field":"ey"}}},
{"data":{"name":"vl"},"mark":{"type":"line","clip":true,"color":"#E8403F","strokeWidth":1.2},"encoding":{}},
{"data":{"name":"hl"},"mark":{"type":"line","clip":true,"color":"#F2B444","strokeWidth":1.2},"encoding":{}},
{"data":{"name":"dg"},"mark":{"type":"line","clip":true,"color":"#4A90D9","strokeWidth":1},"encoding":{}},
{"data":{"name":"reg"},"transform":[{"filter":"datum.p=='CAD'"}],"mark":{"type":"line","clip":true,"color":"#2F6B2F","strokeWidth":1},"encoding":{}},
{"data":{"name":"pts"},"transform":[{"filter":"datum.p=='CAD'"}],"mark":{"type":"point","filled":true,"size":26,"opacity":1,"stroke":"#5e4100","strokeWidth":0.6},"encoding":{"color":{"datum":"Disease susceptibility","type":"nominal","scale":{"domain":["Disease susceptibility","Disease mortality","Shared effect","Undetermined"],"range":["#E8A02C","#E3262A","#3A8FD6","#FFFFFF"]},"legend":{"title":"Bayesian group assignment","orient":"none","legendX":753,"legendY":535}}}}
]},
{"title":"Chronic kidney disease","width":216,"height":189,
"encoding":{"x":{"field":"x","type":"quantitative","title":null,"scale":{"domain":[-0.065,0.322],"nice":false,"zero":false},"axis":{"values":[-0.05,0,0.05,0.1,0.15,0.2,0.25,0.3],"format":".2f"}},"y":{"field":"y","type":"quantitative","title":null,"scale":{"domain":[-0.221,0.324],"nice":false,"zero":false},"axis":{"values":[-0.2,-0.1,0,0.1,0.2,0.3],"format":".1f"}}},
"layer":[
{"data":{"name":"eR"},"mark":{"type":"line","clip":true,"interpolate":"cardinal-closed","strokeDash":[5,3],"color":"#F2A3A3","strokeWidth":1},"encoding":{"order":{"field":"i"}}},
{"data":{"name":"eO"},"mark":{"type":"line","clip":true,"interpolate":"cardinal-closed","strokeDash":[5,3],"color":"#F7D08F","strokeWidth":1},"encoding":{"order":{"field":"i"}}},
{"data":{"name":"eB"},"mark":{"type":"line","clip":true,"interpolate":"cardinal-closed","strokeDash":[5,3],"color":"#AACBEA","strokeWidth":1},"encoding":{"order":{"field":"i"}}},
{"data":{"name":"pts"},"transform":[{"filter":"datum.p=='CKD'"}],"mark":{"type":"errorbar","color":"#d2d2d2","clip":true},"encoding":{"xError":{"field":"ex"}}},
{"data":{"name":"pts"},"transform":[{"filter":"datum.p=='CKD'"}],"mark":{"type":"errorbar","color":"#d2d2d2","clip":true},"encoding":{"yError":{"field":"ey"}}},
{"data":{"name":"vl"},"mark":{"type":"line","clip":true,"color":"#E8403F","strokeWidth":1.2},"encoding":{}},
{"data":{"name":"hl"},"mark":{"type":"line","clip":true,"color":"#F2B444","strokeWidth":1.2},"encoding":{}},
{"data":{"name":"dg"},"mark":{"type":"line","clip":true,"color":"#4A90D9","strokeWidth":1},"encoding":{}},
{"data":{"name":"reg"},"transform":[{"filter":"datum.p=='CKD'"}],"mark":{"type":"line","clip":true,"color":"#2F6B2F","strokeWidth":1},"encoding":{}},
{"data":{"name":"pts"},"transform":[{"filter":"datum.p=='CKD'"}],"mark":{"type":"point","filled":true,"size":26,"opacity":1,"stroke":"#5e4100","strokeWidth":0.6},"encoding":{"color":{"datum":"Disease susceptibility","type":"nominal","scale":{"domain":["Disease susceptibility","Disease mortality","Shared effect","Undetermined"],"range":["#E8A02C","#E3262A","#3A8FD6","#FFFFFF"]},"legend":{"title":"Bayesian group assignment","orient":"none","legendX":753,"legendY":535}}}}
]},
{"title":"Colorectal cancer","width":216,"height":189,
"encoding":{"x":{"field":"x","type":"quantitative","title":null,"scale":{"domain":[-0.066,0.355],"nice":false,"zero":false},"axis":{"values":[0,0.1,0.2,0.3],"format":".1f"}},"y":{"field":"y","type":"quantitative","title":null,"scale":{"domain":[-0.193,0.357],"nice":false,"zero":false},"axis":{"values":[-0.1,0,0.1,0.2,0.3],"format":".1f"}}},
"layer":[
{"data":{"name":"eR"},"mark":{"type":"line","clip":true,"interpolate":"cardinal-closed","strokeDash":[5,3],"color":"#F2A3A3","strokeWidth":1},"encoding":{"order":{"field":"i"}}},
{"data":{"name":"eO"},"mark":{"type":"line","clip":true,"interpolate":"cardinal-closed","strokeDash":[5,3],"color":"#F7D08F","strokeWidth":1},"encoding":{"order":{"field":"i"}}},
{"data":{"name":"eB"},"mark":{"type":"line","clip":true,"interpolate":"cardinal-closed","strokeDash":[5,3],"color":"#AACBEA","strokeWidth":1},"encoding":{"order":{"field":"i"}}},
{"data":{"name":"pts"},"transform":[{"filter":"datum.p=='CRC'"}],"mark":{"type":"errorbar","color":"#d2d2d2","clip":true},"encoding":{"xError":{"field":"ex"}}},
{"data":{"name":"pts"},"transform":[{"filter":"datum.p=='CRC'"}],"mark":{"type":"errorbar","color":"#d2d2d2","clip":true},"encoding":{"yError":{"field":"ey"}}},
{"data":{"name":"vl"},"mark":{"type":"line","clip":true,"color":"#E8403F","strokeWidth":1.2},"encoding":{}},
{"data":{"name":"hl"},"mark":{"type":"line","clip":true,"color":"#F2B444","strokeWidth":1.2},"encoding":{}},
{"data":{"name":"dg"},"mark":{"type":"line","clip":true,"color":"#4A90D9","strokeWidth":1},"encoding":{}},
{"data":{"name":"reg"},"transform":[{"filter":"datum.p=='CRC'"}],"mark":{"type":"line","clip":true,"color":"#2F6B2F","strokeWidth":1},"encoding":{}},
{"data":{"name":"pts"},"transform":[{"filter":"datum.p=='CRC'"}],"mark":{"type":"point","filled":true,"size":26,"opacity":1,"stroke":"#5e4100","strokeWidth":0.6},"encoding":{"color":{"datum":"Disease susceptibility","type":"nominal","scale":{"domain":["Disease susceptibility","Disease mortality","Shared effect","Undetermined"],"range":["#E8A02C","#E3262A","#3A8FD6","#FFFFFF"]},"legend":{"title":"Bayesian group assignment","orient":"none","legendX":753,"legendY":535}}}}
]},
{"title":"Prostate cancer","width":216,"height":189,
"encoding":{"x":{"field":"x","type":"quantitative","title":null,"scale":{"domain":[-0.123,1.648],"nice":false,"zero":false},"axis":{"values":[0,0.5,1,1.5],"format":".1f"}},"y":{"field":"y","type":"quantitative","title":null,"scale":{"domain":[-0.561,1.663],"nice":false,"zero":false},"axis":{"values":[-0.5,0,0.5,1,1.5],"format":".1f"}}},
"layer":[
{"data":{"name":"eR"},"mark":{"type":"line","clip":true,"interpolate":"cardinal-closed","strokeDash":[5,3],"color":"#F2A3A3","strokeWidth":1},"encoding":{"order":{"field":"i"}}},
{"data":{"name":"eO"},"mark":{"type":"line","clip":true,"interpolate":"cardinal-closed","strokeDash":[5,3],"color":"#F7D08F","strokeWidth":1},"encoding":{"order":{"field":"i"}}},
{"data":{"name":"eB"},"mark":{"type":"line","clip":true,"interpolate":"cardinal-closed","strokeDash":[5,3],"color":"#AACBEA","strokeWidth":1},"encoding":{"order":{"field":"i"}}},
{"data":{"name":"pts"},"transform":[{"filter":"datum.p=='PC'"}],"mark":{"type":"errorbar","color":"#d2d2d2","clip":true},"encoding":{"xError":{"field":"ex"}}},
{"data":{"name":"pts"},"transform":[{"filter":"datum.p=='PC'"}],"mark":{"type":"errorbar","color":"#d2d2d2","clip":true},"encoding":{"yError":{"field":"ey"}}},
{"data":{"name":"vl"},"mark":{"type":"line","clip":true,"color":"#E8403F","strokeWidth":1.2},"encoding":{}},
{"data":{"name":"hl"},"mark":{"type":"line","clip":true,"color":"#F2B444","strokeWidth":1.2},"encoding":{}},
{"data":{"name":"dg"},"mark":{"type":"line","clip":true,"color":"#4A90D9","strokeWidth":1},"encoding":{}},
{"data":{"name":"reg"},"transform":[{"filter":"datum.p=='PC'"}],"mark":{"type":"line","clip":true,"color":"#2F6B2F","strokeWidth":1},"encoding":{}},
{"data":{"name":"pts"},"transform":[{"filter":"datum.p=='PC'"}],"mark":{"type":"point","filled":true,"size":26,"opacity":1,"stroke":"#5e4100","strokeWidth":0.6},"encoding":{"color":{"datum":"Disease susceptibility","type":"nominal","scale":{"domain":["Disease susceptibility","Disease mortality","Shared effect","Undetermined"],"range":["#E8A02C","#E3262A","#3A8FD6","#FFFFFF"]},"legend":{"title":"Bayesian group assignment","orient":"none","legendX":753,"legendY":535}}}}
]},
{"title":"Heart failure","width":216,"height":189,
"encoding":{"x":{"field":"x","type":"quantitative","title":null,"scale":{"domain":[-0.063,0.309],"nice":false,"zero":false},"axis":{"values":[-0.05,0,0.05,0.1,0.15,0.2,0.25,0.3],"format":".2f"}},"y":{"field":"y","type":"quantitative","title":null,"scale":{"domain":[-0.203,0.314],"nice":false,"zero":false},"axis":{"values":[-0.2,-0.1,0,0.1,0.2,0.3],"format":".1f"}}},
"layer":[
{"data":{"name":"eR"},"mark":{"type":"line","clip":true,"interpolate":"cardinal-closed","strokeDash":[5,3],"color":"#F2A3A3","strokeWidth":1},"encoding":{"order":{"field":"i"}}},
{"data":{"name":"eO"},"mark":{"type":"line","clip":true,"interpolate":"cardinal-closed","strokeDash":[5,3],"color":"#F7D08F","strokeWidth":1},"encoding":{"order":{"field":"i"}}},
{"data":{"name":"eB"},"mark":{"type":"line","clip":true,"interpolate":"cardinal-closed","strokeDash":[5,3],"color":"#AACBEA","strokeWidth":1},"encoding":{"order":{"field":"i"}}},
{"data":{"name":"pts"},"transform":[{"filter":"datum.p=='HF'"}],"mark":{"type":"errorbar","color":"#d2d2d2","clip":true},"encoding":{"xError":{"field":"ex"}}},
{"data":{"name":"pts"},"transform":[{"filter":"datum.p=='HF'"}],"mark":{"type":"errorbar","color":"#d2d2d2","clip":true},"encoding":{"yError":{"field":"ey"}}},
{"data":{"name":"oth"},"mark":{"type":"errorbar","color":"#d2d2d2","clip":true},"encoding":{"xError":{"field":"ex"}}},
{"data":{"name":"oth"},"mark":{"type":"errorbar","color":"#d2d2d2","clip":true},"encoding":{"yError":{"field":"ey"}}},
{"data":{"name":"vl"},"mark":{"type":"line","clip":true,"color":"#E8403F","strokeWidth":1.2},"encoding":{}},
{"data":{"name":"hl"},"mark":{"type":"line","clip":true,"color":"#F2B444","strokeWidth":1.2},"encoding":{}},
{"data":{"name":"dg"},"mark":{"type":"line","clip":true,"color":"#4A90D9","strokeWidth":1},"encoding":{}},
{"data":{"name":"reg"},"transform":[{"filter":"datum.p=='HF'"}],"mark":{"type":"line","clip":true,"color":"#2F6B2F","strokeWidth":1},"encoding":{}},
{"data":{"name":"pts"},"transform":[{"filter":"datum.p=='HF'"}],"mark":{"type":"point","filled":true,"size":26,"opacity":1,"stroke":"#5e4100","strokeWidth":0.6},"encoding":{"color":{"datum":"Disease susceptibility","type":"nominal","scale":{"domain":["Disease susceptibility","Disease mortality","Shared effect","Undetermined"],"range":["#E8A02C","#E3262A","#3A8FD6","#FFFFFF"]},"legend":{"title":"Bayesian group assignment","orient":"none","legendX":753,"legendY":535}}}},
{"data":{"name":"oth"},"mark":{"type":"point","filled":true,"size":26,"opacity":1,"stroke":"#777","strokeWidth":0.7},"encoding":{"color":{"field":"g","type":"nominal","scale":{"domain":["Disease susceptibility","Disease mortality","Shared effect","Undetermined"],"range":["#E8A02C","#E3262A","#3A8FD6","#FFFFFF"]},"legend":{"title":"Bayesian group assignment","orient":"none","legendX":753,"legendY":535}}}}
]},
{"width":216,"height":189,"view":{"stroke":null},"data":{"values":[{"x":0}]},"mark":{"type":"point","opacity":0},"encoding":{"x":{"field":"x","type":"quantitative","axis":null}}},
{"title":"Stroke","width":216,"height":189,
"encoding":{"x":{"field":"x","type":"quantitative","title":"Variant effect on susceptibility","scale":{"domain":[-0.098,1.257],"nice":false,"zero":false},"axis":{"values":[0,0.2,0.4,0.6,0.8,1,1.2],"format":".1f","titleFontSize":15,"titleFontWeight":"normal","titleColor":"#000","titleX":216,"titleY":29,"titleAlign":"center","titleBaseline":"middle"}},"y":{"field":"y","type":"quantitative","title":null,"scale":{"domain":[-0.98,1.28],"nice":false,"zero":false},"axis":{"values":[-0.5,0,0.5,1],"format":".1f"}}},
"layer":[
{"data":{"name":"eR"},"mark":{"type":"line","clip":true,"interpolate":"cardinal-closed","strokeDash":[5,3],"color":"#F2A3A3","strokeWidth":1},"encoding":{"order":{"field":"i"}}},
{"data":{"name":"eO"},"mark":{"type":"line","clip":true,"interpolate":"cardinal-closed","strokeDash":[5,3],"color":"#F7D08F","strokeWidth":1},"encoding":{"order":{"field":"i"}}},
{"data":{"name":"eB"},"mark":{"type":"line","clip":true,"interpolate":"cardinal-closed","strokeDash":[5,3],"color":"#AACBEA","strokeWidth":1},"encoding":{"order":{"field":"i"}}},
{"data":{"name":"pts"},"transform":[{"filter":"datum.p=='ST'"}],"mark":{"type":"errorbar","color":"#d2d2d2","clip":true},"encoding":{"xError":{"field":"ex"}}},
{"data":{"name":"pts"},"transform":[{"filter":"datum.p=='ST'"}],"mark":{"type":"errorbar","color":"#d2d2d2","clip":true},"encoding":{"yError":{"field":"ey"}}},
{"data":{"name":"vl"},"mark":{"type":"line","clip":true,"color":"#E8403F","strokeWidth":1.2},"encoding":{}},
{"data":{"name":"hl"},"mark":{"type":"line","clip":true,"color":"#F2B444","strokeWidth":1.2},"encoding":{}},
{"data":{"name":"dg"},"mark":{"type":"line","clip":true,"color":"#4A90D9","strokeWidth":1},"encoding":{}},
{"data":{"name":"reg"},"transform":[{"filter":"datum.p=='ST'"}],"mark":{"type":"line","clip":true,"color":"#2F6B2F","strokeWidth":1},"encoding":{}},
{"data":{"name":"pts"},"transform":[{"filter":"datum.p=='ST'"}],"mark":{"type":"point","filled":true,"size":26,"opacity":1,"stroke":"#5e4100","strokeWidth":0.6},"encoding":{"color":{"datum":"Disease susceptibility","type":"nominal","scale":{"domain":["Disease susceptibility","Disease mortality","Shared effect","Undetermined"],"range":["#E8A02C","#E3262A","#3A8FD6","#FFFFFF"]},"legend":{"title":"Bayesian group assignment","orient":"none","legendX":753,"legendY":535}}}}
]},
{"title":"Type 2 diabetes","width":216,"height":189,
"encoding":{"x":{"field":"x","type":"quantitative","title":null,"scale":{"domain":[-0.114,1.49],"nice":false,"zero":false},"axis":{"values":[0,0.5,1],"format":".1f"}},"y":{"field":"y","type":"quantitative","title":null,"scale":{"domain":[-0.987,1.513],"nice":false,"zero":false},"axis":{"values":[-0.5,0,0.5,1,1.5],"format":".1f"}}},
"layer":[
{"data":{"name":"eR"},"mark":{"type":"line","clip":true,"interpolate":"cardinal-closed","strokeDash":[5,3],"color":"#F2A3A3","strokeWidth":1},"encoding":{"order":{"field":"i"}}},
{"data":{"name":"eO"},"mark":{"type":"line","clip":true,"interpolate":"cardinal-closed","strokeDash":[5,3],"color":"#F7D08F","strokeWidth":1},"encoding":{"order":{"field":"i"}}},
{"data":{"name":"eB"},"mark":{"type":"line","clip":true,"interpolate":"cardinal-closed","strokeDash":[5,3],"color":"#AACBEA","strokeWidth":1},"encoding":{"order":{"field":"i"}}},
{"data":{"name":"pts"},"transform":[{"filter":"datum.p=='T2D'"}],"mark":{"type":"errorbar","color":"#d2d2d2","clip":true},"encoding":{"xError":{"field":"ex"}}},
{"data":{"name":"pts"},"transform":[{"filter":"datum.p=='T2D'"}],"mark":{"type":"errorbar","color":"#d2d2d2","clip":true},"encoding":{"yError":{"field":"ey"}}},
{"data":{"name":"vl"},"mark":{"type":"line","clip":true,"color":"#E8403F","strokeWidth":1.2},"encoding":{}},
{"data":{"name":"hl"},"mark":{"type":"line","clip":true,"color":"#F2B444","strokeWidth":1.2},"encoding":{}},
{"data":{"name":"dg"},"mark":{"type":"line","clip":true,"color":"#4A90D9","strokeWidth":1},"encoding":{}},
{"data":{"name":"reg"},"transform":[{"filter":"datum.p=='T2D'"}],"mark":{"type":"line","clip":true,"color":"#2F6B2F","strokeWidth":1},"encoding":{}},
{"data":{"name":"pts"},"transform":[{"filter":"datum.p=='T2D'"}],"mark":{"type":"point","filled":true,"size":26,"opacity":1,"stroke":"#5e4100","strokeWidth":0.6},"encoding":{"color":{"datum":"Disease susceptibility","type":"nominal","scale":{"domain":["Disease susceptibility","Disease mortality","Shared effect","Undetermined"],"range":["#E8A02C","#E3262A","#3A8FD6","#FFFFFF"]},"legend":{"title":"Bayesian group assignment","orient":"none","legendX":753,"legendY":535}}}}
]}
],
"config":{
"font":"Liberation Sans",
"view":{"stroke":"#333","strokeWidth":1},
"title":{"fontSize":10,"fontWeight":"bold","offset":6,"color":"#000","anchor":"middle"},
"axis":{"domain":false,"grid":true,"gridColor":"#d4d4d4","gridDash":[2,2],"gridWidth":0.8,"ticks":true,"tickSize":3,"tickColor":"#444","labelFontSize":8,"labelColor":"#333","labelFlush":false,"labelOverlap":false,"labelBound":false},
"axisX":{"labelPadding":7},
"axisY":{"labelAngle":-90,"labelAlign":"center","labelBaseline":"bottom","labelPadding":6},
"legend":{"titleFontSize":12,"titleFontWeight":"normal","titleColor":"#000","labelFontSize":12,"labelColor":"#000","symbolType":"circle","symbolSize":45,"symbolStrokeColor":"#333","symbolStrokeWidth":0.8,"rowPadding":2.5,"titlePadding":7,"labelOffset":6,"symbolOffset":10,"padding":0}
}
}
